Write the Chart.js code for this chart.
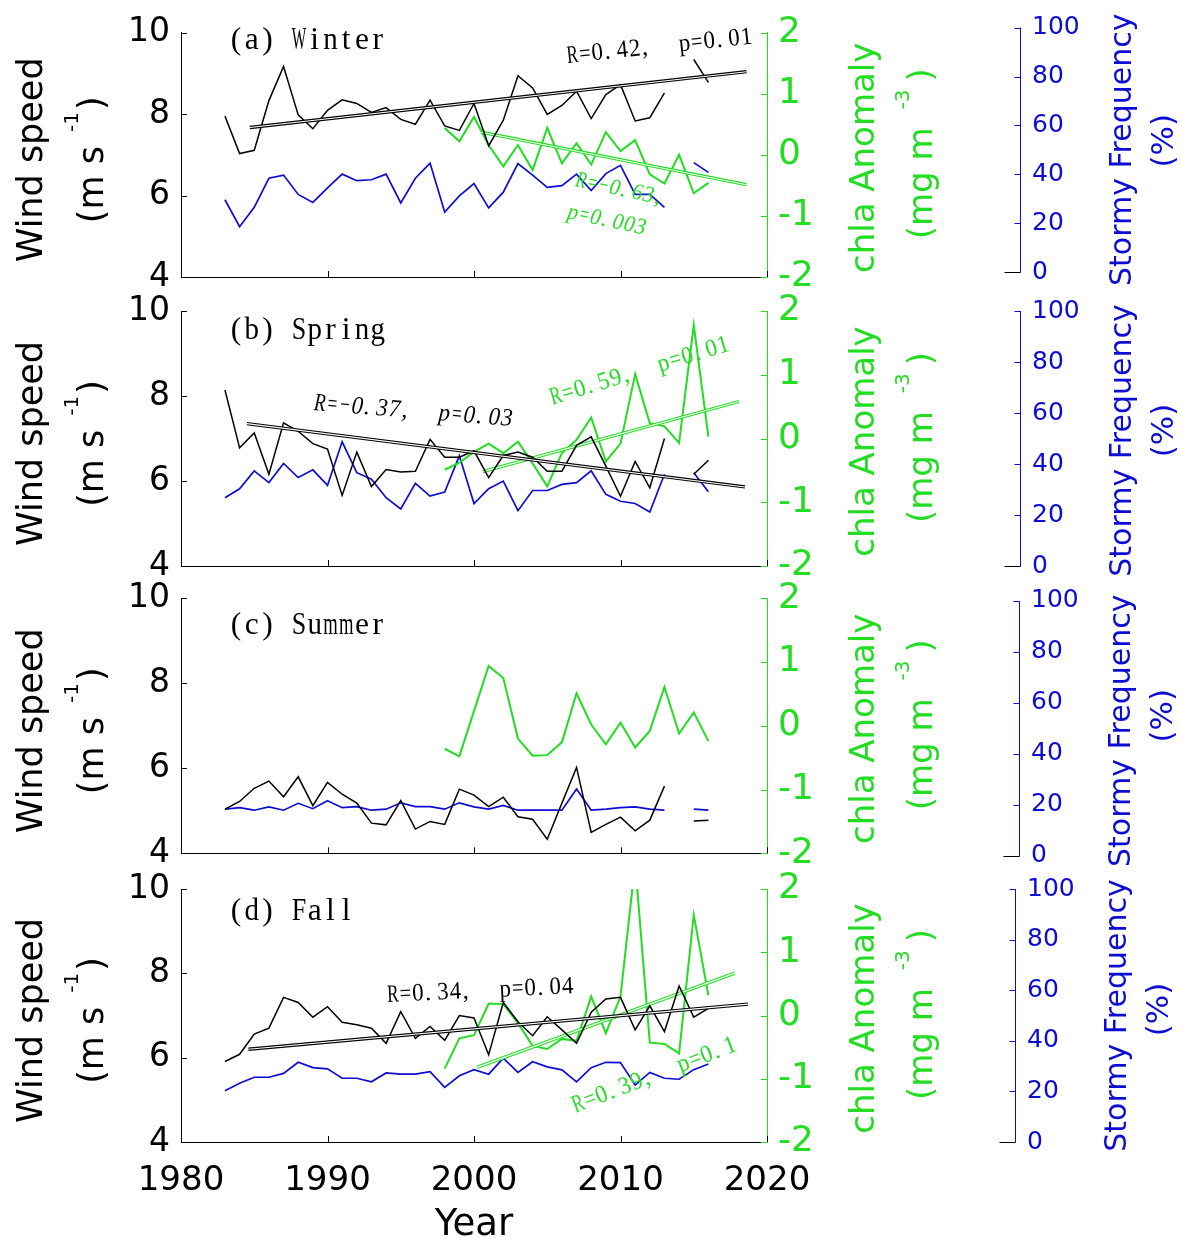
<!DOCTYPE html>
<html>
<head>
<meta charset="utf-8">
<title>Seasonal wind speed, chla anomaly and stormy frequency</title>
<script src="https://cdn.jsdelivr.net/npm/chart.js@4.4.1/dist/chart.umd.min.js"></script>
<style>
  html, body { margin: 0; padding: 0; background: #ffffff; }
  #figure { position: relative; width: 1181px; height: 1239px; overflow: hidden; }
  #figure canvas { position: absolute; left: 0; top: 0; }
</style>
</head>
<body>
<div id="figure">
  <canvas id="winter" width="1181" height="1239"></canvas>
  <canvas id="spring" width="1181" height="1239"></canvas>
  <canvas id="summer" width="1181" height="1239"></canvas>
  <canvas id="fall" width="1181" height="1239"></canvas>
</div>
<script>
// ---------- categories and tick values ----------
const windYears = [1983, 1984, 1985, 1986, 1987, 1988, 1989, 1990, 1991, 1992, 1993, 1994,
  1995, 1996, 1997, 1998, 1999, 2000, 2001, 2002, 2003, 2004, 2005, 2006, 2007, 2008,
  2009, 2010, 2011, 2012, 2013, 2014, 2015, 2016];
const chlaYears = [1998, 1999, 2000, 2001, 2002, 2003, 2004, 2005, 2006, 2007, 2008, 2009,
  2010, 2011, 2012, 2013, 2014, 2015, 2016];
const xTickYears = [1980, 1990, 2000, 2010, 2020];
const windTicks = [4, 6, 8, 10];
const chlaTicks = [-2, -1, 0, 1, 2];
const stormTicks = [0, 20, 40, 60, 80, 100];

// ---------- wind speed (m s-1), 1983-2016 ----------
const windWinter = [7.95, 7.03, 7.11, 8.33, 9.17, 7.98, 7.64, 8.09, 8.35, 8.26, 8.04, 8.16,
  7.87, 7.75, 8.34, 7.71, 7.60, 8.26, 7.22, 7.85, 8.94, 8.64, 7.99, 8.21, 8.56, 7.89,
  8.48, 8.72, 7.83, 7.91, 8.52, null, 9.34, 8.78];
const windSpring = [8.14, 6.78, 7.13, 6.16, 7.37, 7.17, 6.88, 6.75, 5.66, 6.68, 5.87, 6.27,
  6.21, 6.23, 6.98, 6.56, 6.56, 6.71, 6.08, 6.60, 6.68, 6.56, 6.23, 6.23, 6.84, 7.04,
  6.35, 5.64, 6.46, 5.84, 7.00, null, 6.16, 6.49];
const windSummer = [5.04, 5.22, 5.53, 5.70, 5.33, 5.80, 5.12, 5.67, 5.39, 5.18, 4.71, 4.67,
  5.24, 4.57, 4.75, 4.68, 5.51, 5.37, 5.10, 5.32, 4.86, 4.80, 4.33, 5.18, 6.02, 4.49,
  4.68, 4.85, 4.53, 4.78, 5.58, null, 4.76, 4.78];
const windFall = [5.91, 6.08, 6.56, 6.70, 7.43, 7.31, 6.96, 7.21, 6.84, 6.78, 6.70, 6.34,
  7.09, 6.46, 6.74, 6.41, 7.00, 6.94, 6.07, 7.31, 6.85, 6.52, 6.97, 6.66, 6.34, 7.08,
  7.39, 7.43, 6.66, 7.23, 6.62, 7.70, 6.96, 7.17];

// ---------- chla anomaly (mg m-3), 1998-2016 ----------
const chlaWinter = [0.44, 0.22, 0.62, 0.16, -0.19, 0.16, -0.25, 0.44, -0.14, 0.19, -0.16,
  0.37, 0.06, 0.24, -0.32, -0.47, 0.00, -0.63, -0.46];
const chlaSpring = [-0.49, -0.38, -0.21, -0.08, -0.23, -0.05, -0.39, -0.75, -0.23, -0.02,
  0.33, -0.36, -0.08, 1.01, 0.24, 0.19, -0.07, 1.78, 0.03];
const chlaSummer = [-0.36, -0.48, 0.23, 0.94, 0.75, -0.20, -0.47, -0.46, -0.26, 0.51, 0.02,
  -0.29, 0.05, -0.34, -0.08, 0.61, -0.12, 0.21, -0.24];
const chlaFall = [-0.84, -0.36, -0.31, 0.19, 0.18, -0.12, -0.48, -0.53, -0.37, -0.40, 0.30,
  -0.28, 0.30, 2.40, -0.43, -0.45, -0.60, 1.59, 0.32];

// ---------- stormy frequency (%), 1983-2016 ----------
const stormWinter = [29.6, 18.6, 26.5, 38.4, 39.7, 31.8, 28.5, 34.5, 40.1, 37.4, 37.8, 40.1,
  28.3, 38.4, 44.6, 24.6, 31.2, 36.2, 26.3, 32.7, 44.4, 39.7, 34.7, 35.4, 40.1, 33.4,
  40.3, 43.7, 31.8, 31.8, 26.5, null, 44.8, 40.8];
const stormSpring = [26.8, 30.3, 37.3, 32.7, 40.2, 34.7, 37.7, 31.6, 48.7, 36.6, 34.0, 26.8,
  22.4, 32.4, 27.4, 29.0, 43.2, 24.5, 30.3, 33.3, 21.7, 29.6, 29.6, 32.0, 32.7, 37.3,
  28.1, 25.4, 24.5, 21.2, 36.0, null, 36.6, 29.1];
const stormSummer = [18.3, 18.9, 17.9, 19.2, 17.9, 20.6, 18.5, 21.6, 18.9, 19.3, 17.9, 18.3,
  20.8, 19.3, 19.3, 18.3, 20.8, 19.2, 18.3, 19.8, 17.9, 17.9, 17.9, 17.9, 26.2, 17.9,
  18.3, 18.9, 19.2, 18.3, 17.9, null, 18.3, 17.9];
const stormFall = [20.3, 23.2, 25.6, 25.6, 27.1, 31.5, 29.4, 28.9, 25.2, 25.2, 23.8, 27.3,
  26.8, 26.8, 27.8, 21.6, 26.2, 28.6, 26.8, 33.1, 27.5, 31.7, 29.7, 28.5, 23.8, 29.4,
  31.5, 31.4, 22.5, 27.5, 25.2, 24.8, 28.6, 30.8];

// ---------- linear trends: [year, value] end points ----------
const trendWindWinter = [[1984.7, 7.67], [2018.6, 9.04]];
const trendChlaWinter = [[2000.5, 0.37], [2018.6, -0.49]];
const trendWindSpring = [[1984.5, 7.35], [2018.5, 5.86]];
const trendChlaSpring = [[2000.6, -0.52], [2018.1, 0.58]];
const trendWindFall = [[1984.6, 6.20], [2018.7, 7.27]];
const trendChlaFall = [[2000.2, -0.82], [2017.8, 0.67]];

// ---------- correlation labels ----------
const statsWinter = ['R=0.42, p=0.01', 'R=\u22120.63,', 'p=0.003'];
const statsSpring = ['R=\u22120.37, p=0.03', 'R=0.59, p=0.01'];
const statsFall = ['R=0.34, p=0.04', 'R=0.39, p=0.1'];

// ---------- styling ----------
const W = 1181, H = 1239;
const INK = '#000000';
const GREEN = '#22dd22';
const BLUE = '#0c0cd2';
const SANS = 'DejaVu Sans';
const SERIF = 'Liberation Serif';
const PLOT_LEFT = 181, PLOT_RIGHT = 767;

const panels = [
  { id: 'winter', label: '(a) Winter', top: 24.5, bottom: 277, blueX: 1020, stormRange: [-2, 98],
    wind: windWinter, chla: chlaWinter, storm: stormWinter,
    windTrend: trendWindWinter, chlaTrend: trendChlaWinter, labelY: 49,
    stormTitleShift: -5, percentShift: -14,
    notes: [
      { text: statsWinter[0], x: 567, y: 63, angle: -6, color: INK, size: 25 },
      { text: statsWinter[1], x: 574, y: 186, angle: 12, color: GREEN, size: 23, italic: true },
      { text: statsWinter[2], x: 566, y: 218, angle: 12, color: GREEN, size: 23, italic: true }
    ] },
  { id: 'spring', label: '(b) Spring', top: 311, bottom: 566, blueX: 1020, stormRange: [0, 100],
    wind: windSpring, chla: chlaSpring, storm: stormSpring,
    windTrend: trendWindSpring, chlaTrend: trendChlaSpring, labelY: 339,
    stormTitleShift: 2, percentShift: -8,
    notes: [
      { text: statsSpring[0], x: 313, y: 410, angle: 4.6, color: INK, size: 25, italic: true },
      { text: statsSpring[1], x: 552, y: 405, angle: -17, color: GREEN, size: 25 }
    ] },
  { id: 'summer', label: '(c) Summer', top: 598.3, bottom: 853.3, blueX: 1019, stormRange: [1, 101],
    wind: windSummer, chla: chlaSummer, storm: stormSummer,
    windTrend: null, chlaTrend: null, labelY: 634,
    stormTitleShift: 5, percentShift: -10, notes: [] },
  { id: 'fall', label: '(d) Fall', top: 889, bottom: 1142, blueX: 1015, stormRange: [0, 100],
    wind: windFall, chla: chlaFall, storm: stormFall,
    windTrend: trendWindFall, chlaTrend: trendChlaFall, labelY: 920,
    stormTitleShift: 0, percentShift: -6,
    notes: [
      { text: statsFall[0], x: 387, y: 1002, angle: -2.7, color: INK, size: 25 },
      { text: statsFall[1], x: 575, y: 1113, angle: -21, color: GREEN, size: 25 }
    ] }
];

// ---------- helpers ----------
function seriesPoints(xs, ys) { return xs.map((x, i) => ({ x: x, y: ys[i] })); }
function pairPoints(pairs) { return pairs.map(p => ({ x: p[0], y: p[1] })); }

function lineSet(data, color, width, axis, order) {
  return { data: data, borderColor: color, backgroundColor: color, borderWidth: width,
    pointRadius: 0, pointHoverRadius: 0, tension: 0, fill: false, spanGaps: false,
    yAxisID: axis, order: order };
}

function fixedTicks(values) {
  return scale => { scale.ticks = values.map(v => ({ value: v })); };
}

function segment(ctx, x1, y1, x2, y2, color) {
  ctx.strokeStyle = color;
  ctx.beginPath();
  ctx.moveTo(x1, y1);
  ctx.lineTo(x2, y2);
  ctx.stroke();
}

// rotated axis title made of runs (normal text and raised exponent)
function rotatedTitle(ctx, x, cy, runs, color) {
  ctx.save();
  ctx.translate(x, cy);
  ctx.rotate(-Math.PI / 2);
  ctx.fillStyle = color;
  ctx.textAlign = 'left';
  ctx.textBaseline = 'alphabetic';
  const widths = [];
  let total = 0;
  runs.forEach(r => {
    ctx.font = r.size + 'px "' + SANS + '"';
    const w = ctx.measureText(r.text).width;
    widths.push(w);
    total += w + (r.gap || 0);
  });
  let pos = -total / 2;
  runs.forEach((r, i) => {
    ctx.font = r.size + 'px "' + SANS + '"';
    ctx.fillText(r.text, pos, -(r.raise || 0));
    pos += widths[i] + (r.gap || 0);
  });
  ctx.restore();
}

// serif text laid on a fixed character grid (half-width cells, full-width comma)
function gridText(ctx, note) {
  const size = note.size;
  ctx.save();
  ctx.translate(note.x, note.y);
  ctx.rotate(note.angle * Math.PI / 180);
  ctx.font = (note.italic ? 'italic ' : '') + size + 'px "' + SERIF + '"';
  ctx.fillStyle = note.color;
  ctx.textAlign = 'left';
  ctx.textBaseline = 'alphabetic';
  let pos = 0;
  for (const ch of note.text) {
    const cell = size * (ch === ',' ? 1 : 0.5);
    const w = ctx.measureText(ch).width;
    const fit = w > 0 ? Math.min(1, cell * 0.92 / w) : 1;
    const dx = (ch === '.' || ch === ',') ? size * 0.03 : (cell - w * fit) / 2;
    ctx.save();
    ctx.translate(pos + dx, 0);
    ctx.scale(fit, 1);
    ctx.fillText(ch, 0, 0);
    ctx.restore();
    pos += cell;
  }
  ctx.restore();
}

function decorations(p, isLast) {
  return {
    id: 'decor_' + p.id,
    afterDraw(chart) {
      const ctx = chart.ctx;
      const a = chart.chartArea;
      const sx = chart.scales.x, sy = chart.scales.y, sg = chart.scales.yChl, sb = chart.scales.yStorm;
      ctx.save();
      ctx.lineWidth = 1;

      // inward tick marks on the wind / year axes
      xTickYears.forEach(v => {
        const px = Math.round(sx.getPixelForValue(v)) + 0.5;
        segment(ctx, px, a.bottom, px, a.bottom - 6, INK);
      });
      windTicks.forEach(v => {
        const py = Math.round(sy.getPixelForValue(v)) + 0.5;
        segment(ctx, a.left, py, a.left + 6, py, INK);
      });
      chlaTicks.forEach(v => {
        const py = Math.round(sg.getPixelForValue(v)) + 0.5;
        segment(ctx, a.right, py, a.right - 6, py, GREEN);
      });

      // detached stormy-frequency axis
      const bx = p.blueX + 0.5;
      const bTop = sb.getPixelForValue(100), bBot = Math.round(sb.getPixelForValue(0)) + 0.5;
      segment(ctx, bx, bTop, bx, bBot, BLUE);
      stormTicks.forEach(v => {
        if (v === 0) return;
        const py = Math.round(sb.getPixelForValue(v)) + 0.5;
        segment(ctx, bx, py, bx - 6, py, BLUE);
      });
      segment(ctx, bx - 16, bBot, bx, bBot, INK);

      // axis titles
      const mid = (a.top + a.bottom) / 2;
      rotatedTitle(ctx, 42, mid + 5, [{ text: 'Wind speed', size: 35 }], INK);
      rotatedTitle(ctx, 103, mid + 5, [
        { text: '(m s', size: 35, gap: 14 },
        { text: '-1', size: 20, raise: 25, gap: 2 },
        { text: ')', size: 35 }
      ], INK);
      rotatedTitle(ctx, 874, mid + 3, [{ text: 'chla Anomaly', size: 34 }], GREEN);
      rotatedTitle(ctx, 932, mid - 1, [
        { text: '(mg m', size: 34, gap: 18 },
        { text: '-3', size: 20, raise: 23, gap: 8 },
        { text: ')', size: 34 }
      ], GREEN);
      rotatedTitle(ctx, p.blueX + 111, mid + p.stormTitleShift,
        [{ text: 'Stormy Frequency', size: 30 }], BLUE);
      rotatedTitle(ctx, p.blueX + 153, mid + p.percentShift, [{ text: '(%)', size: 31 }], BLUE);

      // panel label and correlation notes
      gridText(ctx, { text: p.label, x: 228, y: p.labelY, angle: 0, color: INK, size: 31.5 });
      p.notes.forEach(n => gridText(ctx, n));

      if (isLast) {
        ctx.fillStyle = INK;
        ctx.font = '37px "' + SANS + '"';
        ctx.textAlign = 'center';
        ctx.textBaseline = 'alphabetic';
        ctx.fillText('Year', (PLOT_LEFT + PLOT_RIGHT) / 2, 1235);
      }
      ctx.restore();
    }
  };
}

function buildPanel(p, isLast) {
  const datasets = [];
  if (p.windTrend) {
    datasets.push(lineSet(pairPoints(p.windTrend), '#ffffff', 1.1, 'y', 0));
    datasets.push(lineSet(pairPoints(p.windTrend), INK, 3.3, 'y', 1));
  }
  datasets.push(lineSet(seriesPoints(windYears, p.wind), INK, 1.5, 'y', 2));
  if (p.chlaTrend) {
    datasets.push(lineSet(pairPoints(p.chlaTrend), '#ffffff', 1.1, 'yChl', 3));
    datasets.push(lineSet(pairPoints(p.chlaTrend), GREEN, 3.3, 'yChl', 4));
  }
  datasets.push(lineSet(seriesPoints(chlaYears, p.chla), GREEN, 2, 'yChl', 5));
  datasets.push(lineSet(seriesPoints(windYears, p.storm), BLUE, 1.7, 'yStorm', 6));

  const noGrid = { display: false, drawTicks: false };

  new Chart(document.getElementById(p.id), {
    type: 'line',
    data: { datasets: datasets },
    options: {
      responsive: false,
      maintainAspectRatio: false,
      animation: false,
      devicePixelRatio: 1,
      events: [],
      layout: { padding: { top: p.top, bottom: isLast ? 0 : H - p.bottom, left: 0, right: 0 } },
      plugins: { legend: { display: false }, tooltip: { enabled: false }, title: { display: false } },
      scales: {
        x: {
          type: 'linear', position: 'bottom', min: 1980, max: 2020,
          grid: noGrid,
          border: { display: true, color: INK, width: 1 },
          ticks: { display: isLast, padding: 19, color: INK, autoSkip: false, maxRotation: 0,
            font: { family: SANS, size: 34 }, callback: v => String(v) },
          afterBuildTicks: fixedTicks(xTickYears),
          afterFit: s => { s.height = isLast ? H - p.bottom : 0; }
        },
        y: {
          type: 'linear', position: 'left', min: 4, max: 10,
          grid: noGrid,
          border: { display: true, color: INK, width: 1 },
          ticks: { padding: 11, color: INK, autoSkip: false, font: { family: SANS, size: 33 } },
          afterBuildTicks: fixedTicks(windTicks),
          afterFit: s => { s.width = PLOT_LEFT; }
        },
        yChl: {
          type: 'linear', position: 'right', min: -2, max: 2,
          grid: noGrid,
          border: { display: true, color: GREEN, width: 1 },
          ticks: { padding: 11, color: GREEN, autoSkip: false, font: { family: SANS, size: 36 } },
          afterBuildTicks: fixedTicks(chlaTicks),
          afterFit: s => { s.width = p.blueX - PLOT_RIGHT; }
        },
        yStorm: {
          type: 'linear', position: 'right', min: p.stormRange[0], max: p.stormRange[1],
          grid: noGrid,
          border: { display: false },
          ticks: { padding: 12, color: BLUE, autoSkip: false, font: { family: SANS, size: 25 } },
          afterBuildTicks: fixedTicks(stormTicks),
          afterFit: s => { s.width = W - p.blueX; }
        }
      }
    },
    plugins: [decorations(p, isLast)]
  });
}

panels.forEach((p, i) => buildPanel(p, i === panels.length - 1));
</script>
</body>
</html>
